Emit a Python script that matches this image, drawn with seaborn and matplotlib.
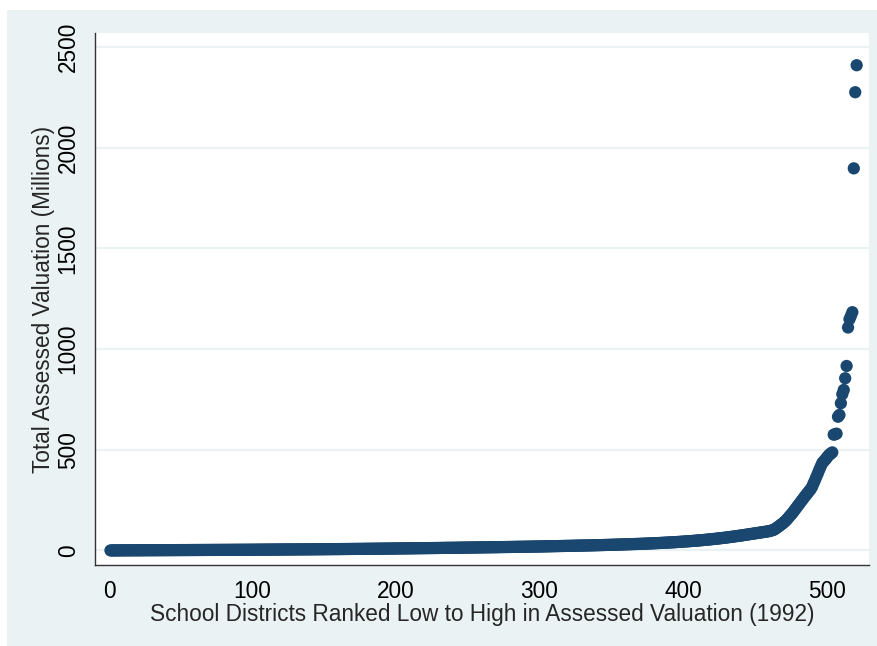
import numpy as np
import pandas as pd
import seaborn as sns
import matplotlib.pyplot as plt
from matplotlib.patches import Rectangle

# assessed valuation (millions), districts sorted low to high
valuation = [
    0.3, 0.4, 0.4, 0.5, 0.5, 0.6, 0.6, 0.7, 0.7, 0.8, 0.8, 0.8, 0.9, 0.9, 0.9, 1.0, 1.0, 1.0, 1.1, 1.1,
    1.1, 1.2, 1.2, 1.2, 1.3, 1.3, 1.3, 1.4, 1.4, 1.4, 1.5, 1.5, 1.5, 1.6, 1.6, 1.6, 1.7, 1.7, 1.7, 1.8,
    1.8, 1.8, 1.9, 1.9, 1.9, 2.0, 2.0, 2.0, 2.1, 2.1, 2.1, 2.2, 2.2, 2.2, 2.3, 2.3, 2.3, 2.4, 2.4, 2.4,
    2.5, 2.5, 2.5, 2.6, 2.6, 2.6, 2.7, 2.7, 2.7, 2.8, 2.8, 2.8, 2.9, 2.9, 2.9, 3.0, 3.0, 3.0, 3.1, 3.1,
    3.1, 3.2, 3.2, 3.2, 3.3, 3.3, 3.3, 3.4, 3.4, 3.5, 3.5, 3.5, 3.6, 3.6, 3.6, 3.7, 3.7, 3.8, 3.8, 3.9,
    3.9, 4.0, 4.0, 4.1, 4.1, 4.2, 4.2, 4.3, 4.3, 4.4, 4.4, 4.5, 4.5, 4.6, 4.6, 4.7, 4.7, 4.8, 4.8, 4.9,
    4.9, 5.0, 5.0, 5.1, 5.1, 5.2, 5.2, 5.3, 5.3, 5.4, 5.4, 5.5, 5.5, 5.6, 5.6, 5.7, 5.7, 5.8, 5.8, 5.9,
    5.9, 6.0, 6.0, 6.1, 6.1, 6.2, 6.3, 6.3, 6.4, 6.4, 6.5, 6.6, 6.6, 6.7, 6.7, 6.8, 6.9, 6.9, 7.0, 7.0,
    7.1, 7.2, 7.2, 7.3, 7.4, 7.4, 7.5, 7.6, 7.6, 7.7, 7.8, 7.8, 7.9, 8.0, 8.0, 8.1, 8.2, 8.3, 8.3, 8.4,
    8.5, 8.6, 8.6, 8.7, 8.8, 8.9, 8.9, 9.0, 9.1, 9.2, 9.2, 9.3, 9.4, 9.5, 9.6, 9.6, 9.7, 9.8, 9.9, 10.0,
    10.1, 10.2, 10.2, 10.3, 10.4, 10.5, 10.6, 10.7, 10.8, 10.8, 10.9, 11.0, 11.1, 11.2, 11.3, 11.4, 11.4, 11.5, 11.6, 11.7,
    11.8, 11.9, 12.0, 12.0, 12.1, 12.2, 12.3, 12.4, 12.5, 12.6, 12.7, 12.8, 12.9, 13.0, 13.1, 13.2, 13.3, 13.3, 13.4, 13.5,
    13.6, 13.7, 13.8, 13.9, 14.0, 14.1, 14.2, 14.3, 14.4, 14.5, 14.6, 14.7, 14.8, 14.9, 15.0, 15.1, 15.2, 15.3, 15.4, 15.5,
    15.6, 15.7, 15.8, 15.9, 16.0, 16.1, 16.2, 16.3, 16.4, 16.5, 16.6, 16.7, 16.8, 17.0, 17.1, 17.2, 17.3, 17.4, 17.5, 17.6,
    17.7, 17.8, 18.0, 18.1, 18.2, 18.3, 18.4, 18.5, 18.6, 18.8, 18.9, 19.0, 19.1, 19.2, 19.4, 19.5, 19.6, 19.7, 19.8, 20.0,
    20.1, 20.3, 20.4, 20.6, 20.7, 20.9, 21.0, 21.2, 21.3, 21.5, 21.6, 21.8, 21.9, 22.1, 22.2, 22.4, 22.5, 22.7, 22.8, 23.0,
    23.1, 23.3, 23.4, 23.6, 23.8, 23.9, 24.1, 24.2, 24.4, 24.6, 24.7, 24.9, 25.1, 25.2, 25.4, 25.6, 25.7, 25.9, 26.1, 26.3,
    26.5, 26.7, 26.9, 27.1, 27.3, 27.5, 27.7, 27.9, 28.1, 28.3, 28.5, 28.7, 28.9, 29.2, 29.4, 29.6, 29.8, 30.0, 30.3, 30.5,
    30.7, 31.0, 31.2, 31.5, 31.7, 32.0, 32.2, 32.5, 32.8, 33.0, 33.3, 33.6, 33.9, 34.2, 34.5, 34.8, 35.1, 35.4, 35.7, 36.0,
    36.4, 36.7, 37.0, 37.4, 37.7, 38.1, 38.5, 38.8, 39.2, 39.6, 40.0, 40.4, 40.8, 41.2, 41.7, 42.1, 42.6, 43.0, 43.5, 44.0,
    44.5, 45.0, 45.5, 46.0, 46.6, 47.1, 47.7, 48.2, 48.8, 49.4, 50.0, 50.6, 51.3, 51.9, 52.6, 53.3, 54.0, 54.7, 55.4, 56.1,
    56.9, 57.6, 58.4, 59.2, 60.0, 60.8, 61.7, 62.5, 63.4, 64.3, 65.2, 66.1, 67.0, 68.0, 69.0, 70.0, 71.0, 72.0, 73.0, 74.0,
    75.0, 76.1, 77.2, 78.3, 79.4, 80.5, 81.6, 82.7, 83.8, 84.9, 86.0, 87.1, 88.2, 89.3, 90.4, 91.5, 92.6, 93.7, 94.8, 96.0,
    98, 100, 102, 106, 111, 116, 121, 127, 132, 138, 144, 151, 159, 168, 176, 184, 193, 203, 212, 222,
    231, 241, 250, 260, 269, 278, 287, 296, 305, 317, 334, 350, 367, 384, 401, 418, 434, 442, 450, 459,
    468, 476, 481, 487, 575, 577, 580, 664, 673, 731, 776, 797, 855, 916, 1107, 1148, 1165, 1183, 1897, 2275, 2409,
]
rank = np.arange(1, len(valuation) + 1)

xticks = [0, 100, 200, 300, 400, 500]
yticks = [0, 500, 1000, 1500, 2000, 2500]

df = pd.DataFrame({'rank': rank, 'valuation': valuation})

bg = '#EAF2F3'
navy = '#1A476F'
fs = 16.3

sns.set_style('white')
plt.rcParams['font.family'] = ['Liberation Sans', 'DejaVu Sans']

fig = plt.figure(figsize=(8.77, 6.46), dpi=100, facecolor='white')
# light outer graph region (white strip at top and left like the screenshot)
fig.add_artist(Rectangle((7 / 877, 0), 1, 636 / 646, transform=fig.transFigure,
                         facecolor=bg, edgecolor='none', zorder=-10))
ax = fig.add_axes([95 / 877, 81 / 646, 774 / 877, 532 / 646])
ax.set_facecolor('white')

for y in yticks:
    ax.axhline(y, color=bg, lw=1.6, zorder=0)

sns.scatterplot(data=df, x='rank', y='valuation', color=navy, s=78,
                edgecolor='none', linewidth=0, ax=ax, zorder=3)

ax.set_xlim(-9.8, 529.6)
ax.set_ylim(-72, 2569)
ax.set_xticks(xticks)
ax.set_yticks(yticks)
ax.set_yticklabels([str(v) for v in yticks], rotation=90, va='center')

for s in ['top', 'right']:
    ax.spines[s].set_visible(False)
for s in ['left', 'bottom']:
    ax.spines[s].set_color('#333333')
    ax.spines[s].set_linewidth(1.0)

ax.tick_params(axis='both', direction='out', length=7, width=1, color='#333333',
               labelsize=fs, labelcolor='black')
ax.tick_params(axis='x', pad=4)
ax.tick_params(axis='y', pad=4)

ax.set_xlabel('School Districts Ranked Low to High in Assessed Valuation (1992)',
              fontsize=fs, labelpad=0)
ax.set_ylabel('Total Assessed Valuation (Millions)', fontsize=fs, labelpad=1)

fig.savefig('out.png', dpi=100, facecolor=fig.get_facecolor())
